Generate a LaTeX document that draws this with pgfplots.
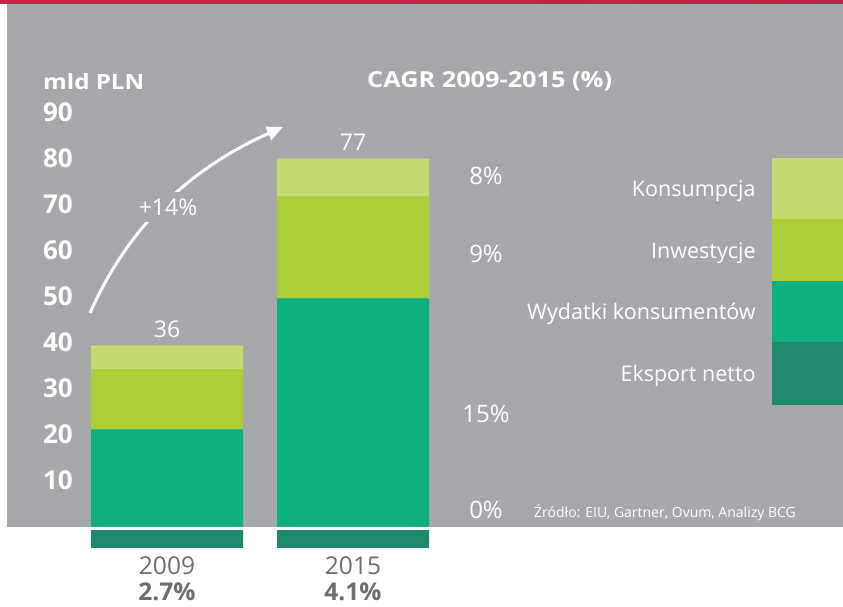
\documentclass[border=0pt]{standalone}
\usepackage{fontspec}
\setmainfont{Open Sans}
\newfontfamily\widefont[FakeStretch=1.15]{Open Sans}
\usepackage{pgfplots}
\pgfplotsset{compat=1.18}
\usetikzlibrary{arrows.meta}
\definecolor{bggray}{HTML}{A7A8AC}
\definecolor{kons}{HTML}{C4DB72}
\definecolor{inw}{HTML}{ACCF37}
\definecolor{wyd}{HTML}{0EB07F}
\definecolor{eks}{HTML}{1E8A6D}
\definecolor{redL}{HTML}{D11E48}
\definecolor{redR}{HTML}{BF2347}
\definecolor{txtgray}{HTML}{6D6E71}
\pgfplotsset{swatch/.style={legend image code/.code={\fill[#1] (0pt,-30.75pt) rectangle (71pt,30.75pt);}}}
\begin{document}
\begin{tikzpicture}
\useasboundingbox (0pt,0pt) rectangle (843pt,606pt);
\fill[white] (0pt,0pt) rectangle (843pt,606pt);
\shade[left color=redL, right color=redR] (0pt,602pt) rectangle (843pt,606pt);
\fill[bggray] (7pt,79.5pt) rectangle (843pt,602pt);

\begin{axis}[
  at={(74pt,56.5pt)}, anchor=south west, scale only axis,
  width=372pt, height=437pt,
  xmin=-0.5, xmax=1.5, ymin=-5, ymax=90,
  ybar stacked, bar width=152pt,
  axis line style={draw=none}, major tick length=0pt,
  xtick={0,1},
  xticklabels={{2009\\\textbf{2.7\%}},{2015\\\textbf{4.1\%}}},
  xticklabel style={align=center, anchor=north, inner sep=0pt, yshift=-7.5pt, text=txtgray, text depth=0pt, font=\fontsize{24.5}{25.5}\selectfont},
  ytick={10,20,...,90}, yticklabels={10,20,30,40,50,60,70,80,90},
  yticklabel style={anchor=east, inner sep=0pt, xshift=-1pt, text=white, font=\fontsize{26}{30}\selectfont\bfseries},
  clip=false,
  legend entries={Eksport netto, Wydatki konsumentów, Inwestycje, Konsumpcja},
  reverse legend,
  legend cell align=right,
  legend plot pos=right,
  legend style={at={(2.0672,0.8959)}, anchor=north east, draw=none, fill=none,
    inner sep=0pt, outer sep=0pt, row sep=0pt, column sep=16pt,
    font=\fontsize{21.5}{24}\selectfont,
    nodes={inner sep=0pt, text height=16pt, text depth=0pt, text=white, font=\fontsize{21.5}{24}\selectfont}},
]
\addlegendimage{swatch=eks}
\addplot[fill=wyd, draw=none, swatch=wyd] coordinates {(0,21.1) (1,49.6)};
\addplot[fill=inw, draw=none, swatch=inw] coordinates {(0,13.1) (1,22.1)};
\addplot[fill=kons, draw=none, swatch=kons] coordinates {(0,5.15) (1,8.3)};
\node[anchor=south, inner sep=0pt, yshift=8pt, text=white, font=\fontsize{23}{26}\selectfont] at (axis cs:0,39.35) {36};
\node[anchor=south, inner sep=0pt, yshift=8pt, text=white, font=\fontsize{23}{26}\selectfont] at (axis cs:1,80.0) {77};
\end{axis}

\begin{axis}[
  at={(74pt,56.5pt)}, anchor=south west, scale only axis,
  width=372pt, height=437pt,
  xmin=-0.5, xmax=1.5, ymin=-5, ymax=90,
  hide axis, ybar, bar width=152pt, bar shift=0pt,
]
\addplot[fill=eks, draw=none] coordinates {(0,-4.67) (1,-4.67)};
\end{axis}

\fill[white] (74pt,76.5pt) rectangle (446pt,79.5pt);

\node[font=\widefont\fontsize{21}{24}\selectfont\bfseries, text=white, anchor=base west, inner sep=0pt] at (43pt,516pt) {mld PLN};
\node[font=\widefont\fontsize{22}{24}\selectfont\bfseries, text=white, anchor=base west, inner sep=0pt] at (367pt,518pt) {CAGR 2009-2015 (\%)};

\draw[white, line width=3pt, -{Triangle[length=16pt, width=14pt]}] (90pt,293pt) .. controls (130pt,383pt) and (193pt,439pt) .. (283pt,479pt);
\node[fill=bggray, text=white, font=\fontsize{23}{26}\selectfont, inner xsep=2pt, inner ysep=7pt] at (168pt,399pt) {+14\%};

\foreach \t/\y in {8\%/421, 9\%/344, 15\%/184, 0\%/88}
  \node[anchor=base, inner sep=0pt, text=white, font=\fontsize{24}{28}\selectfont] at (486pt,\y pt) {\t};

\node[anchor=base west, inner sep=0pt, text=white, font=\fontsize{14}{16}\selectfont] at (534pt,89pt) {Źródło: EIU, Gartner, Ovum, Analizy BCG};
\end{tikzpicture}
\end{document}
